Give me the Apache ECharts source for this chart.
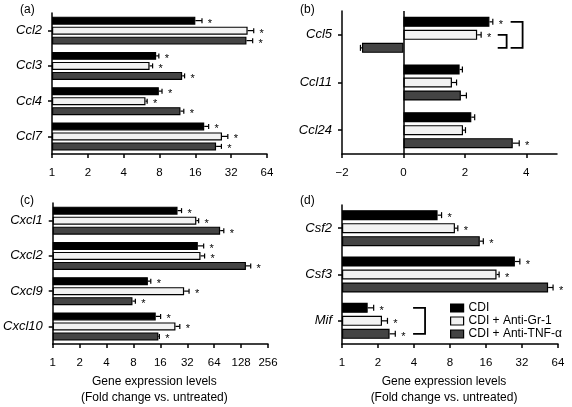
<!DOCTYPE html>
<html>
<head>
<meta charset="utf-8">
<script src="https://cdn.jsdelivr.net/npm/echarts@6/dist/echarts.min.js"></script>
<style>html,body{margin:0;padding:0;background:#fff;}#c{width:572px;height:407px;}</style>
</head>
<body>
<div id="c"></div>
<script>
// ---------- data ----------
const seriesNames = ['CDI', 'CDI + Anti-Gr-1', 'CDI + Anti-TNF-α'];

// (a) Ccl chemokines, log2 axis
const catsA = ['Ccl2', 'Ccl3', 'Ccl4', 'Ccl7'];
const cdiA = [16, 7.5, 7.9, 19];
const gr1A = [44, 6.6, 6.1, 26.8];
const tnfA = [43, 12.4, 12.0, 23.9];
const cdiAErr = [18.2, 7.9, 8.4, 20.7];
const gr1AErr = [49.5, 7.0, 6.3, 30.0];
const tnfAErr = [48.5, 13.0, 12.8, 26.5];
const cdiASig = [1, 1, 1, 1];
const gr1ASig = [1, 1, 1, 1];
const tnfASig = [1, 1, 1, 1];

// (b) linear axis
const catsB = ['Ccl5', 'Ccl11', 'Ccl24'];
const cdiB = [2.80, 1.83, 2.21];
const gr1B = [2.40, 1.58, 1.94];
const tnfB = [-1.35, 1.87, 3.56];
const cdiBErr = [2.91, 1.92, 2.32];
const gr1BErr = [2.53, 1.73, 2.02];
const tnfBErr = [-1.40, 2.05, 3.77];
const cdiBSig = [1, 0, 0];
const gr1BSig = [1, 0, 0];
const tnfBSig = [0, 0, 1];
const ticksB = [-2, 0, 2, 4];

// (c) Cxcl chemokines, log2 axis
const catsC = ['Cxcl1', 'Cxcl2', 'Cxcl9', 'Cxcl10'];
const cdiC = [24.9, 42, 11.6, 14.2];
const gr1C = [40.4, 45, 29.5, 23.6];
const tnfC = [74.6, 145, 7.8, 15.2];
const cdiCErr = [27.6, 48.8, 12.5, 16.1];
const gr1CErr = [42.9, 50, 33.5, 26.4];
const tnfCErr = [82, 164, 8.4, 15.6];
const cdiCSig = [1, 1, 1, 1];
const gr1CSig = [1, 1, 1, 1];
const tnfCSig = [1, 1, 1, 1];

// (d) Csf / Mif, log2 axis
const catsD = ['Csf2', 'Csf3', 'Mif'];
const cdiD = [6.3, 27.9, 1.64];
const gr1D = [8.8, 19.6, 2.16];
const tnfD = [14.2, 52.9, 2.5];
const cdiDErr = [6.8, 30.7, 1.84];
const gr1DErr = [9.3, 20.6, 2.4];
const tnfDErr = [15.2, 58.2, 2.79];
const cdiDSig = [1, 1, 1];
const gr1DSig = [1, 1, 1];
const tnfDSig = [1, 1, 1];

// significance brackets: [category, fromSeries, toSeries, xStart, xEnd]
const bracketsB = [['Ccl5', 0, 2, 3.49, 3.88], ['Ccl5', 1, 2, 3.07, 3.36]];
const bracketsD = [['Mif', 0, 2, 3.93, 4.95]];

const axisTitle = 'Gene expression levels\n(Fold change vs. untreated)';

// ---------- styling ----------
const FONT = '"Liberation Sans", Arial, Helvetica, sans-serif';
const colors = ['#000000', '#f2f2f2', '#444444'];

const panels = [
  {cats: catsA, vals: [cdiA, gr1A, tnfA], errs: [cdiAErr, gr1AErr, tnfAErr], sigs: [cdiASig, gr1ASig, tnfASig],
   grid: {left: 52, top: 13, width: 215, height: 141}, log: true, max: 64, step: 10, bw: 8, cap: 5},
  {cats: catsB, vals: [cdiB, gr1B, tnfB], errs: [cdiBErr, gr1BErr, tnfBErr], sigs: [cdiBSig, gr1BSig, tnfBSig],
   grid: {left: 342, top: 11, width: 215, height: 143}, log: false, step: 13, bw: 10, cap: 6},
  {cats: catsC, vals: [cdiC, gr1C, tnfC], errs: [cdiCErr, gr1CErr, tnfCErr], sigs: [cdiCSig, gr1CSig, tnfCSig],
   grid: {left: 52, top: 203, width: 216, height: 142}, log: true, max: 256, step: 10, bw: 8, cap: 5, title: true},
  {cats: catsD, vals: [cdiD, gr1D, tnfD], errs: [cdiDErr, gr1DErr, tnfDErr], sigs: [cdiDSig, gr1DSig, tnfDSig],
   grid: {left: 342, top: 205, width: 216, height: 142}, log: true, max: 64, step: 13, bw: 10, cap: 6, title: true}
];

function errRender(step, cap, pos) {
  return function (params, api) {
    const ci = api.value(0), v = api.value(1), e = api.value(2), s = api.value(3);
    const p0 = api.coord([v, ci]);
    const p1 = api.coord([e, ci]);
    const y = p0[1] + (pos - 1) * step;
    const dir = p1[0] >= p0[0] ? 1 : -1;
    const ch = [
      {type: 'line', shape: {x1: p0[0], y1: y, x2: p1[0], y2: y}, style: {stroke: '#000', lineWidth: 1.2}},
      {type: 'line', shape: {x1: p1[0], y1: y - cap / 2, x2: p1[0], y2: y + cap / 2}, style: {stroke: '#000', lineWidth: 1.2}}
    ];
    if (s) ch.push({type: 'text', style: {text: '*', x: p1[0] + dir * 8, y: y + 3, fill: '#000',
      font: '11px ' + FONT, align: 'center', verticalAlign: 'middle'}});
    return {type: 'group', children: ch};
  };
}

const grids = [], xAxes = [], yAxes = [], series = [];
panels.forEach((p, k) => {
  grids.push(p.grid);
  const xa = {
    gridIndex: k,
    axisLine: {show: true, onZero: false, lineStyle: {color: '#000', width: 1.5}},
    axisTick: {show: true, length: 4, lineStyle: {color: '#000', width: 1.5}},
    splitLine: {show: false},
    axisLabel: {color: '#000', fontSize: 11.5, fontFamily: FONT, margin: 13},
  };
  if (p.log) {
    Object.assign(xa, {type: 'log', logBase: 2, min: 1, max: p.max});
  } else {
    Object.assign(xa, {type: 'value', min: -2, max: 5});
    xa.axisTick.customValues = ticksB;
    xa.axisLabel.customValues = ticksB;
    xa.axisLabel.formatter = v => String(v).replace('-', '\u2212');
  }
  if (p.title) {
    Object.assign(xa, {name: axisTitle, nameLocation: 'middle', nameGap: 30,
      nameTextStyle: {color: '#000', fontSize: 12, fontFamily: FONT, lineHeight: 16, padding: [0, 12, 0, 0]}});
  }
  xAxes.push(xa);
  yAxes.push({
    gridIndex: k, type: 'category', data: p.cats, inverse: true,
    axisLine: {show: true, onZero: false, lineStyle: {color: '#000', width: 1.5}},
    axisTick: {show: true, alignWithLabel: true, length: 4, lineStyle: {color: '#000', width: 1.5}},
    axisLabel: {color: '#000', fontSize: 13, fontStyle: 'italic', fontFamily: FONT, margin: 10},
    splitLine: {show: false}
  });
  for (let i = 0; i < 3; i++) {
    const s = {
      type: 'bar', name: seriesNames[i], xAxisIndex: k, yAxisIndex: k,
      data: p.vals[i], barWidth: p.bw, barGap: (p.step - p.bw) / p.bw * 100 + '%',
      itemStyle: {color: colors[i], borderColor: '#000', borderWidth: 1.2},
      z: 2
    };
    if (!p.log && i === 0) {
      s.markLine = {silent: true, symbol: 'none', label: {show: false}, animation: false,
        lineStyle: {color: '#000', width: 1.5, type: 'solid'}, data: [{xAxis: 0}]};
    }
    series.push(s);
  }
  for (let i = 0; i < 3; i++) {
    series.push({
      type: 'custom', xAxisIndex: k, yAxisIndex: k, clip: false, z: 3,
      renderItem: errRender(p.step, p.cap, i),
      encode: {x: [1, 2], y: 0},
      data: p.cats.map((c, j) => [j, p.vals[i][j], p.errs[i][j], p.sigs[i][j]])
    });
  }
});

const chart = echarts.init(document.getElementById('c'), null, {renderer: 'canvas'});
chart.setOption({
  animation: false,
  backgroundColor: '#fff',
  grid: grids, xAxis: xAxes, yAxis: yAxes, series: series,
  legend: {
    data: seriesNames, orient: 'vertical', left: 450, top: 302, itemGap: 1, padding: 0,
    itemWidth: 13, itemHeight: 8, icon: 'rect', selectedMode: false,
    itemStyle: {borderColor: '#000', borderWidth: 1.2},
    textStyle: {color: '#000', fontSize: 12, fontFamily: FONT}
  }
});

// panel letters and brackets
const graphics = [
  ['(a)', 20, 4], ['(b)', 300, 4], ['(c)', 20, 195], ['(d)', 300, 195]
].map(t => ({type: 'text', left: t[1], top: t[2], style: {text: t[0], fill: '#000', font: '12px ' + FONT}}));

function addBrackets(list, k) {
  const p = panels[k];
  list.forEach(b => {
    const a = chart.convertToPixel({xAxisIndex: k, yAxisIndex: k}, [b[3], b[0]]);
    const e = chart.convertToPixel({xAxisIndex: k, yAxisIndex: k}, [b[4], b[0]]);
    const y1 = a[1] + (b[1] - 1) * p.step, y2 = a[1] + (b[2] - 1) * p.step;
    graphics.push({type: 'polyline', shape: {points: [[a[0], y1], [e[0], y1], [e[0], y2], [a[0], y2]]},
      style: {stroke: '#000', lineWidth: 1.8, fill: null}, z: 10});
  });
}
addBrackets(bracketsB, 1);
addBrackets(bracketsD, 3);
chart.setOption({graphic: graphics});
</script>
</body>
</html>
